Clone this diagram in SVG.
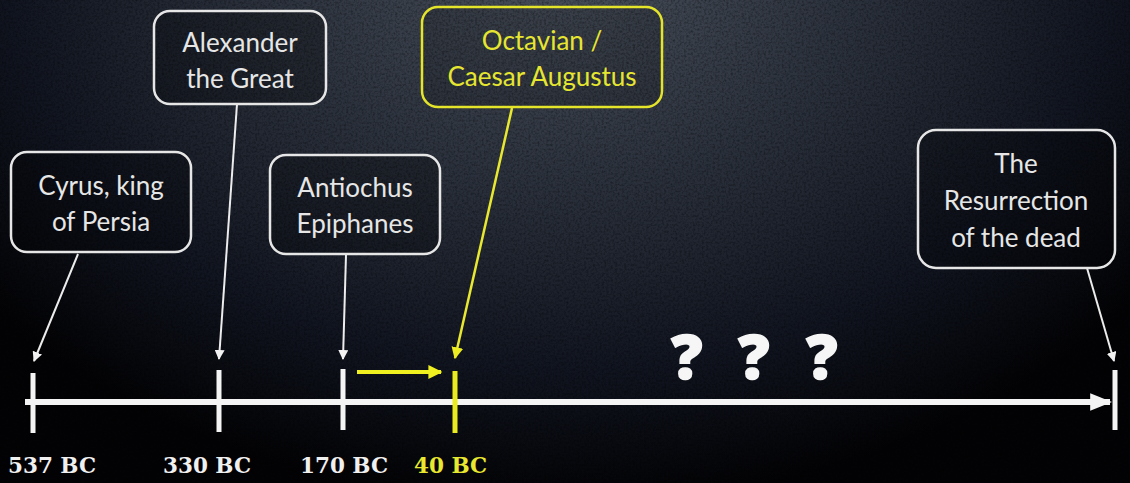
<svg xmlns="http://www.w3.org/2000/svg" width="1130" height="483" viewBox="0 0 1130 483">
  <defs>
    <radialGradient id="bg" cx="560" cy="-40" r="640" gradientUnits="userSpaceOnUse" gradientTransform="translate(560 -40) scale(1.15 0.85) translate(-560 40)">
      <stop offset="0" stop-color="#4a515c"/>
      <stop offset="0.4" stop-color="#2c323d"/>
      <stop offset="0.75" stop-color="#111520"/>
      <stop offset="1" stop-color="#030305"/>
    </radialGradient>
    <filter id="grain" x="0" y="0" width="100%" height="100%">
      <feTurbulence type="fractalNoise" baseFrequency="0.45" numOctaves="3" seed="7"/>
      <feColorMatrix type="matrix" values="0 0 0 0 0  0 0 0 0 0  0 0 0 0 0  0 0 0 -1.8 1.1"/>
    </filter>
    <marker id="arrW" viewBox="0 0 10 10" refX="9" refY="5" markerWidth="10" markerHeight="10" orient="auto" markerUnits="userSpaceOnUse">
      <path d="M0,0 L10,5 L0,10 z" fill="#f2f2f2"/>
    </marker>
    <marker id="arrY" viewBox="0 0 10 10" refX="9" refY="5" markerWidth="12" markerHeight="12" orient="auto" markerUnits="userSpaceOnUse">
      <path d="M0,0 L10,5 L0,10 z" fill="#ecec22"/>
    </marker>
    <marker id="arrYs" viewBox="0 0 10 10" refX="9" refY="5" markerWidth="14" markerHeight="14" orient="auto" markerUnits="userSpaceOnUse">
      <path d="M0,0 L10,5 L0,10 z" fill="#f0f020"/>
    </marker>
    <marker id="arrBig" viewBox="0 0 10 10" refX="9" refY="5" markerWidth="22" markerHeight="22" orient="auto" markerUnits="userSpaceOnUse">
      <path d="M0,1 L10,5 L0,9 z" fill="#f4f4f4"/>
    </marker>
    <style>
      .box { fill: #000; fill-opacity: 0.25; stroke: #e6e6e6; stroke-width: 2.5; }
      .boxY { fill: #000; fill-opacity: 0.15; stroke: #e4e42a; stroke-width: 2.5; }
      .lbl { font-family: Lato, "Open Sans", sans-serif; font-size: 26px; fill: #e6e6e6; text-anchor: middle; }
      .lblY { fill: #e6e630; }
      .conn { stroke: #ececec; stroke-width: 2; fill: none; }
      .connY { stroke: #e8e830; stroke-width: 2.5; fill: none; }
      .tick { stroke: #f4f4f4; stroke-width: 5; }
      .date { font-family: "DejaVu Serif", "Liberation Serif", serif; font-weight: bold; font-size: 21.5px; fill: #f0f0f0; }
      .q { font-family: "Open Sans", "Noto Sans", sans-serif; font-weight: 800; font-size: 62px; fill: #f6f6f6; stroke: #f6f6f6; stroke-width: 1.5; text-anchor: middle; }
    </style>
  </defs>

  <!-- backdrop -->
  <rect width="1130" height="483" fill="url(#bg)"/>
  <rect width="1130" height="483" filter="url(#grain)" opacity="0.4"/>

  <!-- timeline -->
  <g id="timeline">
    <line x1="25" y1="402" x2="1110" y2="402" stroke="#f4f4f4" stroke-width="6" marker-end="url(#arrBig)"/>
    <line class="tick" x1="33" y1="373" x2="33" y2="433"/>
    <line class="tick" x1="219" y1="370" x2="219" y2="432"/>
    <line class="tick" x1="343" y1="369" x2="343" y2="430"/>
    <line x1="455" y1="371" x2="455" y2="433" stroke="#eaea20" stroke-width="5"/>
    <line class="tick" x1="1115" y1="370" x2="1115" y2="430"/>
    <line x1="357" y1="372" x2="441" y2="372" stroke="#f0f020" stroke-width="4" marker-end="url(#arrYs)"/>
    <text class="date" x="8" y="473">537 BC</text>
    <text class="date" x="163" y="473">330 BC</text>
    <text class="date" x="300" y="473">170 BC</text>
    <text class="date" x="414" y="473" style="fill:#e8e830">40 BC</text>
    <text class="q" x="687" y="379">?</text>
    <text class="q" x="754" y="379">?</text>
    <text class="q" x="822" y="379">?</text>
  </g>

  <!-- connectors -->
  <g id="connectors">
    <line class="conn" x1="78" y1="254" x2="34" y2="361" marker-end="url(#arrW)"/>
    <line class="conn" x1="237" y1="104" x2="219" y2="359" marker-end="url(#arrW)"/>
    <line class="conn" x1="346" y1="255" x2="343" y2="359" marker-end="url(#arrW)"/>
    <line class="connY" x1="512" y1="108" x2="455" y2="358" marker-end="url(#arrY)"/>
    <line class="conn" x1="1087" y1="268" x2="1114" y2="361" marker-end="url(#arrW)"/>
  </g>

  <g id="cyrus">
    <rect class="box" x="11" y="152" width="180" height="100" rx="16"/>
    <text class="lbl" x="101" y="195">Cyrus, king</text>
    <text class="lbl" x="101" y="231">of Persia</text>
  </g>

  <g id="alexander">
    <rect class="box" x="154" y="11" width="172" height="93" rx="16"/>
    <text class="lbl" x="240" y="52">Alexander</text>
    <text class="lbl" x="240" y="88">the Great</text>
  </g>

  <g id="antiochus">
    <rect class="box" x="270" y="155" width="170" height="99" rx="16"/>
    <text class="lbl" x="355" y="197">Antiochus</text>
    <text class="lbl" x="355" y="233">Epiphanes</text>
  </g>

  <g id="octavian">
    <rect class="boxY" x="422" y="7" width="240" height="100" rx="16"/>
    <text class="lbl lblY" x="542" y="50">Octavian /</text>
    <text class="lbl lblY" x="542" y="86">Caesar Augustus</text>
  </g>

  <g id="resurrection">
    <rect class="box" x="918" y="130" width="197" height="138" rx="18"/>
    <text class="lbl" x="1016" y="173">The</text>
    <text class="lbl" x="1016" y="210">Resurrection</text>
    <text class="lbl" x="1016" y="247">of the dead</text>
  </g>
</svg>
